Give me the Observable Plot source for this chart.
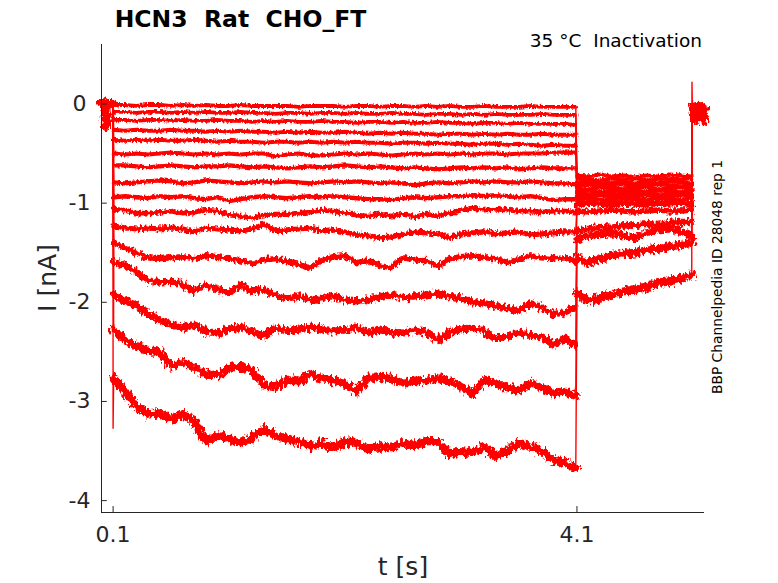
<!DOCTYPE html>
<html><head><meta charset="utf-8">
<script src="https://cdn.jsdelivr.net/npm/d3@7"></script>
<script src="https://cdn.jsdelivr.net/npm/@observablehq/plot@0.6"></script>
<style>body{margin:0;background:#fff;} svg{font-family:"DejaVu Sans",sans-serif;}</style>
</head><body><div id="chart"></div>
<script>
// ---- time bases (s) ----
const holdTimes = [0, 0.02, 0.035, 0.04, 0.042, 0.06, 0.099];
const holdI     = [0.01, 0.015, 0.0, -0.22, 0.0, 0.01, 0.0];
const stepTimes = [0.105,0.2,0.3,0.4,0.5,0.6,0.7,0.8,0.9,1.0,1.1,1.2,1.3,1.4,1.5,1.6,1.7,1.8,1.9,2.0,
  2.1,2.2,2.3,2.4,2.5,2.6,2.7,2.8,2.9,3.0,3.1,3.2,3.3,3.4,3.5,3.6,3.7,3.8,3.9,4.0,4.09];
const tailTimes = [4.1,4.2,4.3,4.4,4.5,4.6,4.7,4.8,4.9,5.0,5.09];
const afterTimes = [5.095,5.13,5.16,5.2];
const onsetSpike = {t: 0.1, i: -3.27};
const offsetSpike = {t: 5.092, i: 0.22};

// ---- step currents (nA) ----
const step1 = [-0.01,-0.01,-0.02,-0.01,-0.01,-0.02,-0.01,-0.02,-0.01,-0.02,-0.02,-0.01,-0.02,-0.02,-0.02,-0.02,-0.03,-0.02,-0.02,-0.02,-0.03,-0.02,-0.02,-0.03,-0.02,-0.02,-0.03,-0.02,-0.03,-0.02,-0.03,-0.03,-0.02,-0.03,-0.03,-0.03,-0.02,-0.03,-0.03,-0.03,-0.03];
const step2 = [-0.08,-0.08,-0.09,-0.08,-0.08,-0.09,-0.08,-0.09,-0.08,-0.09,-0.09,-0.08,-0.09,-0.09,-0.10,-0.09,-0.09,-0.10,-0.09,-0.09,-0.10,-0.09,-0.10,-0.10,-0.09,-0.10,-0.10,-0.11,-0.10,-0.10,-0.11,-0.10,-0.11,-0.10,-0.11,-0.11,-0.11,-0.10,-0.11,-0.11,-0.11];
const step3 = [-0.16,-0.16,-0.17,-0.16,-0.16,-0.17,-0.16,-0.17,-0.17,-0.16,-0.17,-0.17,-0.18,-0.17,-0.18,-0.17,-0.18,-0.18,-0.17,-0.18,-0.18,-0.19,-0.18,-0.18,-0.19,-0.18,-0.19,-0.19,-0.18,-0.19,-0.19,-0.20,-0.19,-0.19,-0.20,-0.19,-0.20,-0.20,-0.20,-0.20,-0.21];
const step4 = [-0.26,-0.27,-0.26,-0.27,-0.27,-0.26,-0.27,-0.27,-0.28,-0.27,-0.28,-0.27,-0.28,-0.28,-0.29,-0.28,-0.29,-0.28,-0.29,-0.29,-0.28,-0.29,-0.30,-0.29,-0.30,-0.29,-0.30,-0.30,-0.31,-0.30,-0.30,-0.31,-0.30,-0.31,-0.30,-0.31,-0.31,-0.30,-0.31,-0.31,-0.31];
const step5 = [-0.36,-0.37,-0.36,-0.37,-0.36,-0.37,-0.37,-0.36,-0.37,-0.38,-0.37,-0.38,-0.38,-0.39,-0.38,-0.38,-0.39,-0.38,-0.39,-0.38,-0.39,-0.38,-0.39,-0.39,-0.40,-0.39,-0.39,-0.40,-0.39,-0.40,-0.40,-0.41,-0.40,-0.40,-0.41,-0.40,-0.41,-0.42,-0.41,-0.42,-0.42];
const step6 = [-0.50,-0.51,-0.50,-0.51,-0.50,-0.49,-0.50,-0.51,-0.50,-0.51,-0.50,-0.51,-0.50,-0.50,-0.53,-0.51,-0.50,-0.52,-0.52,-0.51,-0.50,-0.51,-0.50,-0.51,-0.52,-0.51,-0.50,-0.51,-0.50,-0.51,-0.50,-0.51,-0.50,-0.50,-0.51,-0.50,-0.50,-0.50,-0.49,-0.49,-0.49];
const step7 = [-0.62,-0.62,-0.63,-0.64,-0.63,-0.62,-0.63,-0.64,-0.63,-0.63,-0.62,-0.63,-0.64,-0.63,-0.64,-0.65,-0.64,-0.63,-0.64,-0.63,-0.62,-0.63,-0.64,-0.63,-0.64,-0.65,-0.64,-0.65,-0.66,-0.65,-0.64,-0.65,-0.64,-0.65,-0.64,-0.66,-0.65,-0.64,-0.65,-0.65,-0.65];
const step8 = [-0.79,-0.80,-0.79,-0.78,-0.77,-0.78,-0.80,-0.79,-0.77,-0.78,-0.79,-0.80,-0.79,-0.78,-0.79,-0.78,-0.79,-0.80,-0.79,-0.78,-0.79,-0.78,-0.79,-0.80,-0.79,-0.80,-0.82,-0.80,-0.79,-0.80,-0.79,-0.78,-0.79,-0.78,-0.79,-0.79,-0.78,-0.79,-0.80,-0.80,-0.81];
const step9 = [-0.94,-0.93,-0.94,-0.95,-0.93,-0.94,-0.93,-0.95,-0.96,-0.94,-0.98,-0.96,-0.94,-0.93,-0.94,-0.95,-0.94,-0.93,-0.94,-0.93,-0.94,-0.95,-0.96,-0.96,-0.97,-0.95,-0.94,-0.95,-0.94,-0.93,-0.93,-0.92,-0.93,-0.92,-0.93,-0.94,-0.93,-0.95,-0.97,-0.96,-0.96];
const step10 = [-1.06,-1.07,-1.10,-1.10,-1.09,-1.08,-1.10,-1.09,-1.07,-1.08,-1.12,-1.13,-1.15,-1.12,-1.11,-1.11,-1.10,-1.09,-1.07,-1.08,-1.10,-1.12,-1.13,-1.11,-1.13,-1.11,-1.14,-1.11,-1.13,-1.10,-1.07,-1.05,-1.07,-1.06,-1.07,-1.08,-1.08,-1.09,-1.08,-1.08,-1.09];
const step11 = [-1.23,-1.25,-1.26,-1.25,-1.26,-1.25,-1.26,-1.29,-1.25,-1.26,-1.27,-1.28,-1.26,-1.21,-1.28,-1.27,-1.26,-1.25,-1.28,-1.27,-1.29,-1.32,-1.33,-1.35,-1.34,-1.32,-1.29,-1.30,-1.31,-1.35,-1.31,-1.30,-1.29,-1.31,-1.30,-1.29,-1.32,-1.31,-1.30,-1.29,-1.29];
const step12 = [-1.40,-1.45,-1.50,-1.55,-1.56,-1.55,-1.54,-1.56,-1.53,-1.54,-1.56,-1.58,-1.61,-1.57,-1.56,-1.59,-1.62,-1.65,-1.58,-1.54,-1.53,-1.60,-1.58,-1.63,-1.65,-1.55,-1.57,-1.58,-1.64,-1.56,-1.54,-1.53,-1.55,-1.56,-1.60,-1.57,-1.53,-1.55,-1.56,-1.55,-1.59];
const step13 = [-1.60,-1.62,-1.70,-1.78,-1.80,-1.79,-1.82,-1.89,-1.83,-1.86,-1.91,-1.82,-1.89,-1.87,-1.93,-1.96,-1.94,-1.98,-1.96,-1.93,-1.98,-1.99,-1.97,-1.95,-1.92,-1.95,-1.94,-1.93,-1.91,-1.94,-1.96,-2.00,-2.01,-2.04,-2.06,-2.08,-2.01,-2.05,-2.12,-2.10,-2.05];
const step14 = [-1.92,-1.99,-2.03,-2.12,-2.18,-2.22,-2.26,-2.23,-2.29,-2.31,-2.27,-2.25,-2.30,-2.34,-2.26,-2.29,-2.27,-2.25,-2.27,-2.29,-2.28,-2.25,-2.31,-2.28,-2.30,-2.31,-2.28,-2.30,-2.38,-2.31,-2.27,-2.26,-2.29,-2.37,-2.34,-2.31,-2.33,-2.35,-2.43,-2.36,-2.44];
const step15 = [-2.28,-2.37,-2.45,-2.48,-2.50,-2.64,-2.61,-2.66,-2.72,-2.74,-2.66,-2.65,-2.69,-2.84,-2.86,-2.78,-2.80,-2.72,-2.77,-2.79,-2.82,-2.90,-2.77,-2.75,-2.77,-2.82,-2.80,-2.79,-2.76,-2.80,-2.85,-2.92,-2.78,-2.82,-2.86,-2.89,-2.82,-2.86,-2.92,-2.90,-2.94];
const step16 = [-2.76,-2.90,-3.04,-3.13,-3.12,-3.18,-3.13,-3.20,-3.40,-3.34,-3.38,-3.42,-3.36,-3.28,-3.34,-3.38,-3.40,-3.45,-3.42,-3.47,-3.40,-3.42,-3.48,-3.45,-3.47,-3.42,-3.44,-3.40,-3.40,-3.53,-3.50,-3.52,-3.46,-3.55,-3.50,-3.42,-3.46,-3.50,-3.60,-3.62,-3.68];

// ---- tail currents (nA) ----
const tail1 = [-0.72,-0.73,-0.71,-0.73,-0.72,-0.74,-0.72,-0.73,-0.71,-0.72,-0.73];
const tail2 = [-0.75,-0.76,-0.77,-0.75,-0.76,-0.75,-0.77,-0.76,-0.75,-0.76,-0.75];
const tail3 = [-0.79,-0.78,-0.80,-0.79,-0.78,-0.80,-0.79,-0.80,-0.78,-0.79,-0.80];
const tail4 = [-0.82,-0.81,-0.83,-0.82,-0.81,-0.83,-0.82,-0.81,-0.82,-0.83,-0.82];
const tail5 = [-0.85,-0.86,-0.84,-0.85,-0.86,-0.85,-0.84,-0.86,-0.85,-0.84,-0.86];
const tail6 = [-0.88,-0.87,-0.89,-0.88,-0.87,-0.88,-0.89,-0.87,-0.88,-0.89,-0.87];
const tail7 = [-0.90,-0.91,-0.90,-0.92,-0.90,-0.91,-0.90,-0.91,-0.92,-0.90,-0.91];
const tail8 = [-0.93,-0.94,-0.92,-0.93,-0.94,-0.93,-0.92,-0.94,-0.93,-0.92,-0.94];
const tail9 = [-0.96,-0.95,-0.97,-0.96,-0.95,-0.96,-0.97,-0.95,-0.96,-0.97,-0.95];
const tail10 = [-0.99,-0.98,-1.00,-0.98,-0.99,-1.00,-0.98,-0.99,-0.98,-1.00,-0.99];
const tail11 = [-1.02,-1.00,-1.01,-1.02,-1.00,-1.01,-1.02,-1.00,-1.01,-1.00,-1.02];
const tail12 = [-1.08,-1.09,-1.08,-1.07,-1.08,-1.09,-1.08,-1.07,-1.08,-1.08,-1.07];
const tail13 = [-1.28,-1.26,-1.24,-1.25,-1.22,-1.23,-1.21,-1.22,-1.20,-1.19,-1.19];
const tail14 = [-1.36,-1.33,-1.31,-1.30,-1.33,-1.35,-1.30,-1.27,-1.26,-1.29,-1.33];
const tail15 = [-1.55,-1.60,-1.56,-1.52,-1.51,-1.50,-1.47,-1.46,-1.44,-1.42,-1.40];
const tail16 = [-1.91,-1.98,-1.96,-1.92,-1.89,-1.87,-1.85,-1.80,-1.79,-1.76,-1.72];

// ---- after return to holding (nA) ----
const after1 = [-0.01,0.00,-0.02,-0.01];
const after2 = [-0.02,-0.01,-0.03,-0.02];
const after3 = [-0.03,-0.02,-0.04,-0.02];
const after4 = [-0.02,-0.04,-0.03,-0.05];
const after5 = [-0.04,-0.03,-0.05,-0.03];
const after6 = [-0.05,-0.04,-0.03,-0.06];
const after7 = [-0.03,-0.06,-0.05,-0.04];
const after8 = [-0.06,-0.05,-0.07,-0.05];
const after9 = [-0.05,-0.07,-0.06,-0.08];
const after10 = [-0.07,-0.06,-0.08,-0.06];
const after11 = [-0.08,-0.07,-0.09,-0.07];
const after12 = [-0.09,-0.10,-0.08,-0.11];
const after13 = [-0.10,-0.12,-0.09,-0.13];
const after14 = [-0.12,-0.10,-0.15,-0.12];
const after15 = [-0.14,-0.17,-0.12,-0.18];
const after16 = [-0.02,-0.05,-0.03,-0.06];

const stepList = [step1,step2,step3,step4,step5,step6,step7,step8,step9,step10,step11,step12,step13,step14,step15,step16];
const tailList = [tail1,tail2,tail3,tail4,tail5,tail6,tail7,tail8,tail9,tail10,tail11,tail12,tail13,tail14,tail15,tail16];
const afterList = [after1,after2,after3,after4,after5,after6,after7,after8,after9,after10,after11,after12,after13,after14,after15,after16];
// band thickness (px) per trace (style only)
const widths = [3.8,3.8,3.8,3.9,4.0,4.1,4.2,4.3,4.4,4.8,5.1,5.5,6.4,7.0,7.8,8.4];

const yTicks = [0, -1, -2, -3, -4];
const xTicks = [0.1, 4.1];

function buildTrace(k) {
  const rows = [];
  holdTimes.forEach((t, j) => rows.push({t, i: holdI[j], seg: "hold"}));
  if (k === 15) rows.push({t: onsetSpike.t, i: onsetSpike.i, seg: "spike"});
  stepTimes.forEach((t, j) => rows.push({t, i: stepList[k][j], seg: "step"}));
  tailTimes.forEach((t, j) => rows.push({t, i: tailList[k][j], seg: "tail"}));
  if (k === 15) rows.push({t: offsetSpike.t, i: offsetSpike.i, seg: "spike"});
  afterTimes.forEach((t, j) => rows.push({t, i: afterList[k][j], seg: "after"}));
  return rows;
}

const axisColor = "#262626";
const marks = [];
for (let k = 0; k < 16; k++) {
  const rows = buildTrace(k);
  // thin continuous trace (thin vertical transitions)
  marks.push(Plot.line(rows, {x: "t", y: "i", stroke: "#ff0000", strokeWidth: 1.4}));
  // band for each plateau
  marks.push(Plot.line(rows.filter(d => d.seg !== "spike"), {x: "t", y: "i", z: "seg", stroke: "#ff0000",
    strokeWidth: widths[k], strokeLinejoin: "round"}));
}
marks.push(
  Plot.ruleX([0], {y1: -4.12, y2: 0.6, stroke: axisColor, strokeWidth: 1}),
  Plot.ruleY([-4.12], {x1: 0, x2: 5.2, stroke: axisColor, strokeWidth: 1}),
  Plot.ruleY(yTicks, {x1: 0, x2: 0.05, stroke: axisColor}),
  Plot.ruleX(xTicks, {y1: -4.12, y2: -4.06, stroke: axisColor}),
  Plot.text(yTicks, {x: 0, y: d => d, text: d => String(d), dx: -22, textAnchor: "middle", fontSize: 22, fill: axisColor}),
  Plot.text(xTicks, {x: d => d, y: -4.12, text: d => d.toFixed(1), dy: 22, textAnchor: "middle", fontSize: 22, fill: axisColor})
);

const chart = Plot.plot({
  width: 778, height: 583,
  marginLeft: 101, marginRight: 74, marginTop: 44, marginBottom: 71,
  x: {domain: [0, 5.2], axis: null},
  y: {domain: [-4.12, 0.6], axis: null},
  style: {fontFamily: "DejaVu Sans, sans-serif", background: "white", overflow: "visible"},
  marks
});
document.getElementById("chart").appendChild(chart);

const svg = d3.select(chart);
// texture filter imitating the recorded noise (visual style only)
const defs = svg.insert("defs", ":first-child");
[[0.5, 4], [0.45, 7], [0.4, 10]].forEach(([freq, scale], n) => {
  const f = defs.append("filter").attr("id", "noisy" + n)
    .attr("filterUnits", "userSpaceOnUse").attr("x", -50).attr("y", -50).attr("width", 900).attr("height", 700);
  f.append("feTurbulence").attr("type", "fractalNoise").attr("baseFrequency", `${freq} ${freq * 0.5}`)
    .attr("numOctaves", 2).attr("seed", 3 + n).attr("result", "turb");
  f.append("feDisplacementMap").attr("in", "SourceGraphic").attr("in2", "turb")
    .attr("scale", scale).attr("xChannelSelector", "R").attr("yChannelSelector", "G");
});
svg.selectAll("g[stroke-width]").each(function() {
  const g = d3.select(this);
  const w = +g.attr("stroke-width");
  if (w >= 3) g.attr("filter", `url(#noisy${w < 4.6 ? 0 : w < 6 ? 1 : 2})`);
});

svg.append("text").attr("x", 240.5).attr("y", 26.5).attr("text-anchor", "middle")
  .attr("font-size", 23.5).attr("font-weight", "bold").attr("fill", "#000")
  .style("white-space", "pre").text("HCN3  Rat  CHO_FT");
svg.append("text").attr("x", 702).attr("y", 47).attr("text-anchor", "end")
  .attr("font-size", 18.5).attr("fill", "#000")
  .style("white-space", "pre").text("35 °C  Inactivation");
svg.append("text").attr("transform", "translate(56,278) rotate(-90)").attr("text-anchor", "middle")
  .attr("font-size", 25).attr("fill", axisColor).text("I [nA]");
svg.append("text").attr("x", 403).attr("y", 575).attr("text-anchor", "middle")
  .attr("font-size", 25).attr("fill", axisColor).text("t [s]");
svg.append("text").attr("transform", "translate(722,277) rotate(-90)").attr("text-anchor", "middle")
  .attr("font-size", 13.8).attr("fill", "#000").text("BBP Channelpedia ID 28048 rep 1");
</script>
</body></html>
